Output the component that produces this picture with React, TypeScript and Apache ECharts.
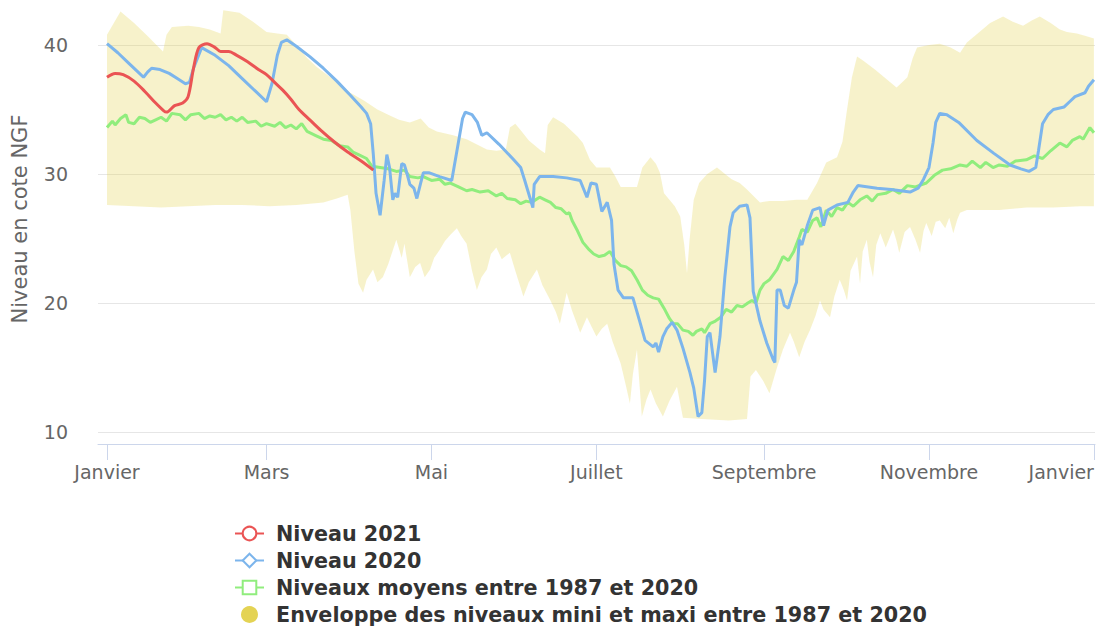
import React, { useEffect, useRef } from 'react';
import * as echarts from 'echarts';

// ---- axis ticks ----
const monthTicks = [0, 59, 120, 181, 243, 304, 365];
const monthLabels = ['Janvier', 'Mars', 'Mai', 'Juillet', 'Septembre', 'Novembre', 'Janvier'];
const yTickInterval = 10;

// ---- series names ----
const NAME_2021 = 'Niveau 2021';
const NAME_2020 = 'Niveau 2020';
const NAME_MEAN = 'Niveaux moyens entre 1987 et 2020';
const NAME_ENV = 'Enveloppe des niveaux mini et maxi entre 1987 et 2020';

// ---- data: [day of year, level (m NGF)] ----
const niveau2021 = [
  [0, 37.5], [3, 37.8], [6, 37.7], [10, 37.2], [14, 36.4], [18, 35.5], [21, 34.9], [22, 34.8],
  [25, 35.3], [28, 35.5], [30, 36.0], [32, 38.2], [34, 39.8], [37, 40.1], [40, 39.8], [42, 39.5],
  [45, 39.5], [48, 39.2], [52, 38.7], [56, 38.1], [59, 37.7], [62, 37.1], [65, 36.5], [68, 35.8],
  [71, 35.0], [75, 34.2], [79, 33.4], [84, 32.5], [89, 31.7], [94, 31.0], [98.5, 30.3],
];

const niveau2020 = [
  [0, 40.1], [4, 39.4], [8, 38.6], [12, 37.8], [13.5, 37.5], [15, 37.9], [16.5, 38.2], [19.6, 38.1],
  [23, 37.8], [26, 37.4], [29, 37.0], [30.5, 37.1], [32, 38.2], [35, 39.8], [40, 39.2], [45, 38.4],
  [50, 37.4], [55, 36.4], [59, 35.6], [61, 37.0], [63, 39.2], [64.5, 40.2], [66.5, 40.4], [70, 39.9],
  [75, 39.1], [80, 38.2], [85, 37.2], [90, 36.1], [94, 35.2], [96, 34.7], [97.5, 33.9], [98.5, 31.5],
  [99.5, 28.5], [101, 26.8], [102.5, 29.5], [103.5, 31.5], [104.5, 30.5], [105.7, 28.0], [106.5, 28.5],
  [107.5, 28.2], [109, 30.8], [110, 30.7], [111, 30.0], [112, 29.2], [113.5, 28.9], [114.6, 28.1],
  [116, 29.3], [117, 30.1], [119, 30.1], [123, 29.8], [127.5, 29.5], [130, 32.5], [131.5, 34.3],
  [132.5, 34.8], [135, 34.6], [137, 34.0], [138.6, 33.0], [140.5, 33.2], [145, 32.3], [150, 31.2],
  [153, 30.5], [154.5, 29.5], [155.5, 28.8], [157.5, 27.4], [158, 29.2], [160, 29.8], [165, 29.8],
  [170, 29.7], [175, 29.5], [177.5, 28.2], [179, 29.3], [181, 29.2], [183, 27.1], [185, 27.8],
  [186.6, 26.4], [187.5, 23.0], [189, 21.0], [191, 20.4], [194.5, 20.4], [197, 18.6], [199, 17.1],
  [202, 16.6], [203, 16.9], [204, 16.2], [205.6, 17.4], [207, 18.0], [209, 18.5], [210.8, 17.9],
  [213, 16.5], [215.6, 14.6], [217, 13.4], [218.6, 11.2], [220, 11.5], [221, 14.0], [222, 17.4],
  [223, 17.7], [224.9, 14.6], [226.7, 17.4], [228.5, 22.0], [230.4, 25.9], [231.6, 27.0], [234, 27.5],
  [236.7, 27.6], [237.8, 26.6], [239, 20.9], [241.5, 18.6], [244, 16.9], [246.4, 15.6], [247, 15.4],
  [247.8, 21.0], [249, 21.0], [250.5, 19.8], [252, 19.6], [254, 21.0], [255, 21.6], [256, 24.9],
  [257, 24.5], [259, 26.0], [261, 27.2], [263.7, 27.4], [265, 26.0], [266.6, 27.2], [270, 27.6],
  [274, 27.8], [276, 28.6], [277.7, 29.1], [284.8, 28.9], [290, 28.8], [297, 28.6], [300, 28.9],
  [302, 29.6], [304, 30.5], [305.5, 32.4], [306.5, 34.0], [308, 34.7], [310.6, 34.6], [315, 34.0],
  [321.7, 32.6], [328, 31.6], [334, 30.7], [338, 30.4], [341, 30.2], [343.5, 30.5], [344.5, 31.8],
  [346, 33.9], [348, 34.6], [350, 35.0], [354, 35.2], [356, 35.6], [358, 36.0], [361.7, 36.3],
  [363, 36.8], [365, 37.3],
];

const niveauxMoyens = [
  [0, 33.6], [2, 34.1], [3, 33.8], [5, 34.3], [7, 34.6], [8, 34.0], [10, 33.9], [12, 34.4], [14, 34.3],
  [16, 34.0], [18, 34.2], [20, 34.4], [22, 34.1], [24, 34.7], [27, 34.6], [29, 34.2], [31, 34.6],
  [34, 34.7], [36, 34.3], [38, 34.5], [40, 34.4], [42, 34.6], [44, 34.2], [46, 34.4], [48, 34.1],
  [50, 34.4], [52, 34.0], [55, 34.1], [57, 33.7], [59, 33.9], [62, 33.7], [64, 34.0], [66, 33.6],
  [68, 33.8], [70, 33.5], [72, 33.9], [74, 33.3], [77, 33.0], [80, 32.7], [83, 32.6], [86, 32.2],
  [89, 32.1], [91, 31.7], [93, 31.5], [96, 31.2], [98, 30.6], [101, 30.5], [104, 30.4], [107, 30.2],
  [110, 30.3], [112, 29.8], [115, 29.7], [117, 29.8], [120, 29.5], [123, 29.6], [125, 29.2],
  [127, 29.3], [130, 29.0], [133, 28.7], [135, 28.8], [138, 28.6], [141, 28.7], [144, 28.3],
  [146, 28.5], [148, 28.1], [151, 28.0], [153, 27.7], [155, 27.9], [157, 27.8], [160, 28.2],
  [162, 28.0], [164, 27.8], [166, 27.4], [168, 27.3], [170, 26.9], [171, 27.0], [172, 26.4],
  [174, 25.6], [176, 24.7], [178, 24.2], [180, 23.8], [182, 23.6], [184, 23.7], [186, 24.0],
  [188, 23.3], [190, 22.9], [192, 22.8], [194, 22.5], [196, 21.8], [198, 21.0], [200, 20.6],
  [202, 20.4], [204, 20.3], [206, 19.6], [208, 18.8], [209.4, 18.4], [211, 18.4], [213, 17.9],
  [215, 17.8], [216.7, 17.5], [218, 17.8], [220, 18.0], [221, 17.7], [223, 18.4], [225, 18.6],
  [227, 18.9], [229, 19.5], [231, 19.3], [233, 19.8], [235, 19.7], [237, 20.0], [238.5, 20.2],
  [240, 20.0], [241.5, 21.0], [243, 21.5], [245, 21.8], [247.8, 22.6], [250, 23.6], [252, 23.3],
  [254, 24.0], [256, 25.1], [257, 25.7], [259, 25.5], [261, 26.4], [262.6, 26.6], [264, 25.9],
  [266, 27.2], [268, 26.7], [270, 27.4], [272, 27.2], [274, 27.8], [276, 27.5], [278.5, 28.0],
  [281, 28.3], [283, 27.9], [285, 28.4], [288, 28.5], [290.7, 28.8], [293, 28.5], [296, 29.1],
  [299, 29.0], [303, 29.3], [306, 29.9], [309, 30.3], [312, 30.4], [315.5, 30.7], [318, 30.6],
  [320, 31.0], [323, 30.5], [325, 30.9], [327.7, 30.5], [330, 30.7], [333, 30.6], [336, 31.0],
  [340, 31.1], [343, 31.4], [346, 31.2], [349, 31.8], [352.4, 32.4], [355, 32.1], [357, 32.6],
  [359.8, 32.9], [361, 32.7], [363.5, 33.6], [365, 33.2],
];

const envelopeMax = [
  [0, 40.8], [5, 42.6], [10, 41.7], [15, 40.7], [20.7, 39.5], [22, 40.8], [24, 41.4], [30, 41.5],
  [34, 41.4], [38, 41.2], [42, 40.9], [43, 42.7], [46, 42.6], [49, 42.5], [54, 41.8], [59, 41.0],
  [63, 40.9], [66.5, 40.8], [70, 40.0], [74, 39.0], [77.6, 38.3], [82, 37.6], [86, 37.0], [90, 36.3],
  [95, 35.7], [100, 35.0], [104, 34.6], [108, 34.2], [112, 34.0], [116, 34.3], [119, 33.6],
  [122, 33.3], [128, 33.0], [133, 32.7], [140.5, 31.9], [144, 31.8], [147.5, 31.9], [149, 33.6],
  [151, 33.9], [153, 33.4], [156, 32.6], [160, 31.9], [162, 31.6], [163, 33.8], [165, 34.4],
  [169, 33.9], [174, 32.9], [176, 32.4], [178.6, 31.1], [181, 30.5], [186, 30.5], [188, 29.8],
  [190, 29.0], [196, 29.0], [198, 30.5], [201, 31.3], [203, 30.8], [204.5, 30.1], [206, 28.5],
  [210, 27.5], [212, 26.7], [213.5, 24.5], [214.5, 22.3], [215.5, 25.0], [217, 28.0], [219, 29.3],
  [222, 30.0], [225.6, 30.5], [228, 30.1], [231, 29.6], [234, 29.3], [236.7, 28.8], [241.5, 27.8],
  [245, 27.9], [250, 27.9], [255, 28.0], [259, 28.0], [262.6, 29.3], [266, 30.9], [270, 31.3],
  [272, 32.5], [273.7, 35.0], [275.5, 37.5], [277.4, 39.1], [279.6, 38.8], [284, 38.1], [288, 37.4],
  [292, 36.7], [294, 37.1], [296, 37.5], [298, 39.0], [299.6, 39.8], [304, 40.0], [308, 40.1],
  [312, 39.8], [315.5, 39.4], [318, 40.2], [322, 40.9], [326.6, 41.7], [331.4, 42.2], [335, 41.8],
  [338.8, 41.5], [342, 41.9], [345, 42.2], [349, 41.7], [352.4, 41.2], [355, 41.0], [358.7, 40.9],
  [362, 40.7], [365, 40.5],
];

const envelopeMin = [
  [0, 27.6], [10, 27.5], [20, 27.4], [30, 27.5], [40, 27.6], [50, 27.6], [60, 27.5], [70, 27.6],
  [80, 27.8], [85, 28.1], [89, 28.4], [90, 27.2], [91.5, 24.0], [93, 21.5], [94.7, 20.8], [96, 21.8],
  [98.4, 22.6], [100, 21.6], [102, 22.0], [104, 23.0], [107, 24.9], [109, 23.5], [110, 24.6],
  [112, 22.0], [114, 22.8], [115.8, 23.1], [117.5, 22.0], [119.5, 22.6], [121, 23.5], [123, 24.1],
  [125, 24.8], [127, 25.3], [129.4, 25.8], [131, 25.2], [133, 24.6], [135, 22.5], [136.8, 21.0],
  [138.5, 22.0], [140.5, 22.6], [142, 23.8], [144, 24.3], [146, 23.4], [149, 23.9], [151, 22.5],
  [154, 20.5], [156, 21.6], [159, 22.6], [161, 21.4], [164, 20.2], [166, 19.3], [167.5, 18.4],
  [170, 20.8], [172, 19.4], [175, 17.7], [177.5, 18.9], [181, 17.4], [183, 18.0], [185, 18.4],
  [187, 17.0], [190, 15.3], [192, 13.5], [193.4, 12.2], [194.5, 14.5], [196, 16.4], [197.8, 11.2],
  [199.5, 12.5], [201, 13.3], [203, 12.2], [205.6, 11.2], [208, 12.4], [210.8, 13.5], [213, 11.1],
  [220, 11.0], [230, 10.9], [236.7, 11.0], [238, 14.3], [240, 14.8], [242.6, 14.0], [245, 13.0],
  [247.8, 15.0], [250, 16.4], [252.6, 17.7], [254, 17.0], [256, 15.8], [258, 17.0], [260, 17.9],
  [262, 19.0], [263.7, 20.2], [265, 19.5], [267.4, 18.9], [269, 20.5], [271, 21.8], [272.5, 21.0],
  [273.7, 20.2], [275, 22.5], [277.4, 23.6], [278.5, 21.5], [279.5, 24.0], [281, 24.9], [282, 23.2],
  [283.3, 22.0], [284.5, 24.5], [286, 25.4], [288, 24.3], [290.7, 25.7], [292, 24.8], [293, 23.9],
  [295, 25.5], [297, 25.9], [299, 24.9], [300.7, 23.9], [302, 25.6], [303, 26.2], [305, 25.2],
  [306.5, 26.3], [308, 26.4], [310, 25.8], [311.5, 26.6], [313, 25.4], [314.5, 26.5], [315.5, 27.0],
  [318, 27.2], [320, 27.2], [330, 27.2], [340, 27.4], [350, 27.4], [360, 27.5], [365, 27.5],
];

const FONT = "'DejaVu Sans', 'Open Sans', sans-serif";

export default function App() {
  const ref = useRef<HTMLDivElement>(null);

  useEffect(() => {
    if (!ref.current) return;
    const chart = echarts.init(ref.current, null, { renderer: 'svg' });

    const option: any = {
      animation: false,
      textStyle: { fontFamily: FONT },
      grid: {
        left: 98,
        right: 4,
        top: -84,
        bottom: 195,
        containLabel: false,
        outerBoundsMode: 'none',
      },
      xAxis: {
        type: 'value',
        min: -3.33,
        max: 365.4,
        offset: 12,
        splitLine: { show: false },
        axisLine: { show: true, lineStyle: { color: '#ccd6eb', width: 1 } },
        axisTick: { show: true, customValues: monthTicks, length: 16, lineStyle: { color: '#ccd6eb' } },
        axisLabel: {
          customValues: monthTicks,
          formatter: (v: number) => {
            const i = monthTicks.indexOf(Math.round(v));
            return i >= 0 ? monthLabels[i] : '';
          },
          margin: 18,
          fontSize: 19,
          color: '#666',
          fontFamily: FONT,
          alignMaxLabel: 'right',
        },
      },
      yAxis: {
        type: 'value',
        min: 10,
        max: 50,
        interval: yTickInterval,
        axisLine: { show: false },
        axisTick: { show: false },
        splitLine: { show: true, lineStyle: { color: '#e6e6e6', width: 1 } },
        axisLabel: {
          fontSize: 19,
          color: '#666',
          margin: 30,
          fontFamily: FONT,
          showMaxLabel: false,
          formatter: (v: number) => (v >= 50 ? '' : String(v)),
        },
      },
      legend: {
        orient: 'vertical',
        left: 234,
        top: 523,
        padding: 0,
        height: 104,
        itemWidth: 29,
        itemHeight: 17,
        itemGap: 6,
        textStyle: {
          fontFamily: FONT,
          fontSize: 20.7,
          fontWeight: 'bold',
          color: '#333',
          padding: [0, 0, 0, 7],
        },
        data: [
          { name: NAME_2021 },
          { name: NAME_2020 },
          { name: NAME_MEAN },
          { name: NAME_ENV, icon: 'circle' },
        ],
      },
      graphic: [
        {
          type: 'text',
          x: 20,
          y: 219,
          rotation: Math.PI / 2,
          style: {
            text: 'Niveau en cote NGF',
            fontSize: 21,
            fontFamily: FONT,
            fill: '#666',
            align: 'center',
            verticalAlign: 'middle',
          },
        },
      ],
      series: [
        {
          type: 'custom',
          name: NAME_ENV,
          silent: true,
          z: 1,
          itemStyle: { color: '#e4d354' },
          encode: { x: 0, y: 1 },
          data: [[0, 30]],
          renderItem: (params: any, api: any) => {
            const pts = [
              ...envelopeMax.map((p) => api.coord(p)),
              ...envelopeMin.slice().reverse().map((p) => api.coord(p)),
            ];
            return {
              type: 'polygon',
              shape: { points: pts },
              style: { fill: 'rgba(228,211,84,0.3)', stroke: 'none' },
            };
          },
        },
        {
          type: 'line',
          name: NAME_MEAN,
          data: niveauxMoyens,
          z: 3,
          showSymbol: false,
          symbol: 'emptyRect',
          lineStyle: { width: 3, color: '#90ed7d' },
          itemStyle: { color: '#90ed7d' },
        },
        {
          type: 'line',
          name: NAME_2020,
          data: niveau2020,
          z: 4,
          showSymbol: false,
          symbol: 'emptyDiamond',
          lineStyle: { width: 3, color: '#7cb5ec' },
          itemStyle: { color: '#7cb5ec' },
        },
        {
          type: 'line',
          name: NAME_2021,
          data: niveau2021,
          z: 5,
          smooth: 0.3,
          showSymbol: false,
          symbol: 'emptyCircle',
          lineStyle: { width: 3, color: '#ea5454' },
          itemStyle: { color: '#ea5454' },
        },
      ],
    };

    chart.setOption(option);
    return () => chart.dispose();
  }, []);

  return (
    <div
      ref={ref}
      style={{ position: 'absolute', left: 0, top: 0, width: 1099, height: 627 }}
    />
  );
}
